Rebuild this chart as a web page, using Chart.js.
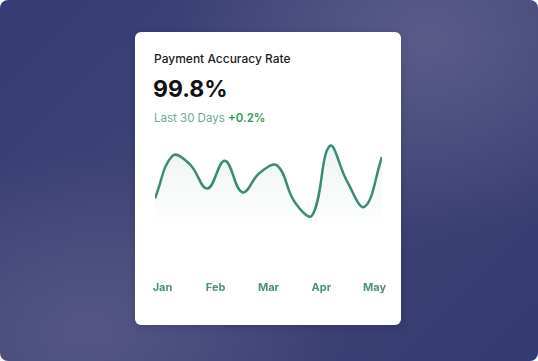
<!DOCTYPE html>
<html><head><meta charset="utf-8">
<script src="https://cdn.jsdelivr.net/npm/chart.js@4"></script>
<style>
html,body{margin:0;padding:0;width:538px;height:361px;overflow:hidden;background:#fff;font-family:Inter,"Noto Sans",sans-serif;}
#bg{position:absolute;left:0;top:0;width:538px;height:361px;border-radius:8px;overflow:hidden;
background:
radial-gradient(ellipse 260px 200px at 430px 40px, rgba(95,95,140,0.85), rgba(95,95,140,0) 100%),
radial-gradient(ellipse 260px 180px at 90px 330px, rgba(90,90,135,0.8), rgba(90,90,135,0) 100%),
linear-gradient(135deg,#363c73 0%,#3f4478 45%,#353a70 100%);}
#card{position:absolute;left:135px;top:32px;width:266px;height:293px;background:#fff;border-radius:6px;box-shadow:0 2px 8px rgba(0,0,0,0.15);}
#title{position:absolute;left:19px;top:19px;font-size:12px;font-weight:500;color:#1c1c1c;}
#value{position:absolute;left:18px;top:43px;font-size:23px;font-weight:700;color:#111;}
#sub{position:absolute;left:19px;top:79px;font-size:11.5px;color:#6da797;}
#sub b{color:#2d9a4c;font-weight:600;}
#wrap{position:absolute;left:10px;top:108px;width:250px;height:158px;}
</style></head><body>
<div id="bg"></div>
<div id="card">
<div id="title">Payment Accuracy Rate</div>
<div id="value">99.8%</div>
<div id="sub">Last 30 Days <b>+0.2%</b></div>
<div id="wrap"><canvas id="c"></canvas></div>
</div>
<script>
const tickLabels = ["Jan","Feb","Mar","Apr","May"];
const tickPositions = [0.43, 3.47, 6.5, 9.53, 12.57];
const values = [52, 87, 80, 60, 83, 57, 73, 79, 49, 38, 95, 66, 45, 86];
const points = values.map((v,i)=>({x:i,y:v}));

const ctx = document.getElementById('c');
new Chart(ctx,{
  type:'line',
  data:{datasets:[{
    data:points,
    borderColor:'#3d8a78',
    borderWidth:2.5,
    pointRadius:0,
    tension:0.4,
    fill:'start',
    backgroundColor:(c)=>{
      const a=c.chart.chartArea; if(!a) return 'rgba(0,0,0,0)';
      const g=c.chart.ctx.createLinearGradient(0,a.top+5,0,a.top+90);
      g.addColorStop(0,'rgba(61,138,120,0.09)');
      g.addColorStop(1,'rgba(61,138,120,0)');
      return g;
    }
  }]},
  options:{
    responsive:true,maintainAspectRatio:false,animation:false,
    layout:{padding:{left:10,right:13,top:0,bottom:0}},
    plugins:{legend:{display:false},tooltip:{enabled:false}},
    scales:{
      x:{type:'linear',min:0,max:values.length-1,
        grid:{display:false},border:{display:false},
        afterBuildTicks:(s)=>{s.ticks=tickPositions.map(v=>({value:v}));},
        ticks:{autoSkip:false,maxRotation:0,padding:4,color:'#4d8f80',
          font:{family:'Inter',size:11,weight:'700'},
          callback:(v,i)=>tickLabels[i]}
      },
      y:{display:false,min:-6,max:100}
    }
  }
});
</script>
</body></html>
